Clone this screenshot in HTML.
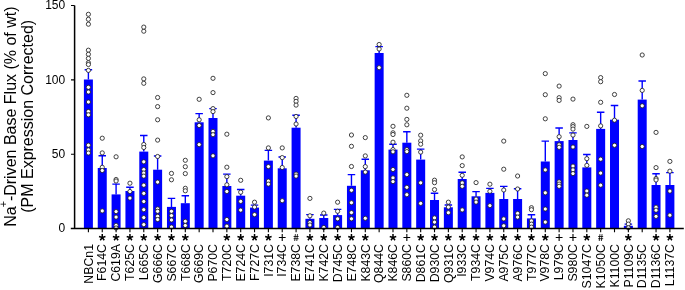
<!DOCTYPE html><html><head><meta charset="utf-8"><style>html,body{margin:0;padding:0;background:#fff;}svg{display:block;will-change:transform;}text{font-family:"Liberation Sans",sans-serif;}</style></head><body>
<svg width="685" height="290" viewBox="0 0 685 290">
<rect width="685" height="290" fill="#fff"/>
<g fill="#0000ff"><rect x="83.90" y="79.50" width="9.0" height="149.00"/><rect x="97.75" y="168.00" width="9.0" height="60.50"/><rect x="111.59" y="194.40" width="9.0" height="34.10"/><rect x="125.44" y="191.00" width="9.0" height="37.50"/><rect x="139.28" y="151.60" width="9.0" height="76.90"/><rect x="153.12" y="169.70" width="9.0" height="58.80"/><rect x="166.97" y="206.90" width="9.0" height="21.60"/><rect x="180.81" y="203.20" width="9.0" height="25.30"/><rect x="194.66" y="122.30" width="9.0" height="106.20"/><rect x="208.50" y="118.00" width="9.0" height="110.50"/><rect x="222.35" y="186.00" width="9.0" height="42.50"/><rect x="236.20" y="195.70" width="9.0" height="32.80"/><rect x="250.04" y="207.60" width="9.0" height="20.90"/><rect x="263.88" y="160.60" width="9.0" height="67.90"/><rect x="277.73" y="168.30" width="9.0" height="60.20"/><rect x="291.58" y="127.70" width="9.0" height="100.80"/><rect x="305.42" y="218.80" width="9.0" height="9.70"/><rect x="319.26" y="218.00" width="9.0" height="10.50"/><rect x="333.11" y="215.10" width="9.0" height="13.40"/><rect x="346.96" y="185.80" width="9.0" height="42.70"/><rect x="360.80" y="170.30" width="9.0" height="58.20"/><rect x="374.64" y="53.00" width="9.0" height="175.50"/><rect x="388.49" y="149.60" width="9.0" height="78.90"/><rect x="402.34" y="142.70" width="9.0" height="85.80"/><rect x="416.18" y="159.60" width="9.0" height="68.90"/><rect x="430.02" y="200.00" width="9.0" height="28.50"/><rect x="443.87" y="207.30" width="9.0" height="21.20"/><rect x="457.72" y="179.00" width="9.0" height="49.50"/><rect x="471.56" y="196.30" width="9.0" height="32.20"/><rect x="485.40" y="192.90" width="9.0" height="35.60"/><rect x="499.25" y="199.00" width="9.0" height="29.50"/><rect x="513.10" y="199.00" width="9.0" height="29.50"/><rect x="526.94" y="218.40" width="9.0" height="10.10"/><rect x="540.79" y="161.50" width="9.0" height="67.00"/><rect x="554.63" y="141.10" width="9.0" height="87.40"/><rect x="568.48" y="140.00" width="9.0" height="88.50"/><rect x="582.32" y="167.40" width="9.0" height="61.10"/><rect x="596.16" y="128.90" width="9.0" height="99.60"/><rect x="610.01" y="119.70" width="9.0" height="108.80"/><rect x="623.86" y="225.80" width="9.0" height="2.70"/><rect x="637.70" y="99.60" width="9.0" height="128.90"/><rect x="651.54" y="185.00" width="9.0" height="43.50"/><rect x="665.39" y="185.00" width="9.0" height="43.50"/></g>
<path d="M88.40 79.50V69.80M84.65 69.80H92.15M102.25 168.00V155.70M98.50 155.70H106.00M116.09 194.40V184.10M112.34 184.10H119.84M129.94 191.00V187.20M126.19 187.20H133.69M143.78 151.60V135.50M140.03 135.50H147.53M157.62 169.70V156.00M153.88 156.00H161.38M171.47 206.90V198.40M167.72 198.40H175.22M185.31 203.20V195.70M181.56 195.70H189.06M199.16 122.30V113.60M195.41 113.60H202.91M213.00 118.00V108.60M209.25 108.60H216.75M226.85 186.00V174.10M223.10 174.10H230.60M240.70 195.70V189.50M236.95 189.50H244.45M254.54 207.60V205.10M250.79 205.10H258.29M268.38 160.60V150.40M264.63 150.40H272.13M282.23 168.30V157.00M278.48 157.00H285.98M296.08 127.70V115.30M292.33 115.30H299.83M309.92 218.80V214.60M306.17 214.60H313.67M323.76 218.00V215.00M320.01 215.00H327.51M337.61 215.10V209.40M333.86 209.40H341.36M351.46 185.80V174.60M347.71 174.60H355.21M365.30 170.30V159.30M361.55 159.30H369.05M379.14 53.00V46.60M375.39 46.60H382.89M392.99 149.60V144.20M389.24 144.20H396.74M406.84 142.70V131.80M403.09 131.80H410.59M420.68 159.60V149.10M416.93 149.10H424.43M434.52 200.00V193.30M430.77 193.30H438.27M448.37 207.30V205.00M444.62 205.00H452.12M462.22 179.00V172.30M458.47 172.30H465.97M476.06 196.30V191.60M472.31 191.60H479.81M489.90 192.90V188.40M486.15 188.40H493.65M503.75 199.00V186.40M500.00 186.40H507.50M517.60 199.00V188.80M513.85 188.80H521.35M531.44 218.40V214.70M527.69 214.70H535.19M545.29 161.50V141.10M541.54 141.10H549.04M559.13 141.10V128.00M555.38 128.00H562.88M572.98 140.00V132.90M569.23 132.90H576.73M586.82 167.40V154.50M583.07 154.50H590.57M600.66 128.90V112.30M596.91 112.30H604.41M614.51 119.70V105.50M610.76 105.50H618.26M628.36 225.80V224.10M624.61 224.10H632.11M642.20 99.60V81.00M638.45 81.00H645.95M656.04 185.00V173.80M652.29 173.80H659.79M669.89 185.00V172.60M666.14 172.60H673.64" stroke="#0000ff" stroke-width="1.4" fill="none"/>
<g fill="#fff" stroke="#222" stroke-width="0.85"><circle cx="88.40" cy="14.30" r="2.1"/><circle cx="88.40" cy="19.30" r="2.1"/><circle cx="88.40" cy="24.20" r="2.1"/><circle cx="88.40" cy="50.20" r="2.1"/><circle cx="88.40" cy="54.30" r="2.1"/><circle cx="88.40" cy="58.40" r="2.1"/><circle cx="88.40" cy="62.70" r="2.1"/><circle cx="88.40" cy="64.50" r="2.1"/><circle cx="88.40" cy="70.40" r="2.1"/><circle cx="88.40" cy="87.30" r="2.1"/><circle cx="88.40" cy="92.00" r="2.1"/><circle cx="88.40" cy="102.00" r="2.1"/><circle cx="88.40" cy="111.50" r="2.1"/><circle cx="88.40" cy="114.80" r="2.1"/><circle cx="88.40" cy="145.20" r="2.1"/><circle cx="88.40" cy="149.90" r="2.1"/><circle cx="88.40" cy="153.00" r="2.1"/><circle cx="102.25" cy="138.20" r="2.1"/><circle cx="102.25" cy="152.90" r="2.1"/><circle cx="102.25" cy="167.30" r="2.1"/><circle cx="102.25" cy="170.50" r="2.1"/><circle cx="102.25" cy="210.90" r="2.1"/><circle cx="116.09" cy="156.80" r="2.1"/><circle cx="116.09" cy="179.50" r="2.1"/><circle cx="116.09" cy="181.00" r="2.1"/><circle cx="116.09" cy="211.60" r="2.1"/><circle cx="116.09" cy="217.10" r="2.1"/><circle cx="116.09" cy="225.30" r="2.1"/><circle cx="116.09" cy="228.00" r="2.1"/><circle cx="129.94" cy="183.20" r="2.1"/><circle cx="129.94" cy="191.50" r="2.1"/><circle cx="129.94" cy="198.10" r="2.1"/><circle cx="143.78" cy="31.20" r="2.1"/><circle cx="143.78" cy="27.10" r="2.1"/><circle cx="143.78" cy="78.90" r="2.1"/><circle cx="143.78" cy="83.30" r="2.1"/><circle cx="143.78" cy="144.50" r="2.1"/><circle cx="143.78" cy="147.50" r="2.1"/><circle cx="143.78" cy="161.80" r="2.1"/><circle cx="143.78" cy="169.60" r="2.1"/><circle cx="143.78" cy="173.00" r="2.1"/><circle cx="143.78" cy="176.10" r="2.1"/><circle cx="143.78" cy="185.20" r="2.1"/><circle cx="143.78" cy="193.40" r="2.1"/><circle cx="143.78" cy="201.50" r="2.1"/><circle cx="143.78" cy="209.70" r="2.1"/><circle cx="143.78" cy="217.60" r="2.1"/><circle cx="143.78" cy="224.60" r="2.1"/><circle cx="157.62" cy="97.50" r="2.1"/><circle cx="157.62" cy="106.60" r="2.1"/><circle cx="157.62" cy="119.80" r="2.1"/><circle cx="157.62" cy="140.10" r="2.1"/><circle cx="157.62" cy="156.50" r="2.1"/><circle cx="157.62" cy="182.10" r="2.1"/><circle cx="157.62" cy="208.90" r="2.1"/><circle cx="157.62" cy="211.30" r="2.1"/><circle cx="157.62" cy="216.30" r="2.1"/><circle cx="157.62" cy="219.50" r="2.1"/><circle cx="171.47" cy="173.40" r="2.1"/><circle cx="171.47" cy="179.80" r="2.1"/><circle cx="171.47" cy="211.30" r="2.1"/><circle cx="171.47" cy="215.60" r="2.1"/><circle cx="171.47" cy="220.00" r="2.1"/><circle cx="171.47" cy="227.00" r="2.1"/><circle cx="185.31" cy="160.30" r="2.1"/><circle cx="185.31" cy="166.70" r="2.1"/><circle cx="185.31" cy="173.60" r="2.1"/><circle cx="185.31" cy="188.30" r="2.1"/><circle cx="185.31" cy="190.80" r="2.1"/><circle cx="185.31" cy="221.30" r="2.1"/><circle cx="185.31" cy="225.50" r="2.1"/><circle cx="199.16" cy="99.30" r="2.1"/><circle cx="199.16" cy="119.80" r="2.1"/><circle cx="199.16" cy="125.50" r="2.1"/><circle cx="199.16" cy="144.60" r="2.1"/><circle cx="213.00" cy="78.30" r="2.1"/><circle cx="213.00" cy="92.60" r="2.1"/><circle cx="213.00" cy="108.60" r="2.1"/><circle cx="213.00" cy="111.60" r="2.1"/><circle cx="213.00" cy="131.40" r="2.1"/><circle cx="213.00" cy="134.70" r="2.1"/><circle cx="213.00" cy="155.80" r="2.1"/><circle cx="226.85" cy="134.20" r="2.1"/><circle cx="226.85" cy="167.20" r="2.1"/><circle cx="226.85" cy="176.60" r="2.1"/><circle cx="226.85" cy="184.80" r="2.1"/><circle cx="226.85" cy="191.50" r="2.1"/><circle cx="226.85" cy="219.50" r="2.1"/><circle cx="226.85" cy="226.20" r="2.1"/><circle cx="240.70" cy="180.30" r="2.1"/><circle cx="240.70" cy="192.20" r="2.1"/><circle cx="240.70" cy="201.40" r="2.1"/><circle cx="240.70" cy="210.10" r="2.1"/><circle cx="254.54" cy="202.20" r="2.1"/><circle cx="254.54" cy="207.10" r="2.1"/><circle cx="254.54" cy="214.60" r="2.1"/><circle cx="268.38" cy="117.90" r="2.1"/><circle cx="268.38" cy="147.90" r="2.1"/><circle cx="268.38" cy="166.60" r="2.1"/><circle cx="268.38" cy="181.10" r="2.1"/><circle cx="268.38" cy="184.10" r="2.1"/><circle cx="282.23" cy="147.90" r="2.1"/><circle cx="282.23" cy="157.60" r="2.1"/><circle cx="282.23" cy="167.50" r="2.1"/><circle cx="282.23" cy="200.70" r="2.1"/><circle cx="296.08" cy="98.40" r="2.1"/><circle cx="296.08" cy="101.40" r="2.1"/><circle cx="296.08" cy="105.10" r="2.1"/><circle cx="296.08" cy="116.50" r="2.1"/><circle cx="296.08" cy="124.00" r="2.1"/><circle cx="296.08" cy="174.10" r="2.1"/><circle cx="296.08" cy="176.10" r="2.1"/><circle cx="309.92" cy="198.40" r="2.1"/><circle cx="309.92" cy="215.80" r="2.1"/><circle cx="309.92" cy="222.50" r="2.1"/><circle cx="309.92" cy="225.00" r="2.1"/><circle cx="323.76" cy="213.10" r="2.1"/><circle cx="323.76" cy="227.50" r="2.1"/><circle cx="337.61" cy="202.20" r="2.1"/><circle cx="337.61" cy="211.30" r="2.1"/><circle cx="337.61" cy="218.80" r="2.1"/><circle cx="337.61" cy="227.50" r="2.1"/><circle cx="351.46" cy="135.00" r="2.1"/><circle cx="351.46" cy="146.30" r="2.1"/><circle cx="351.46" cy="166.50" r="2.1"/><circle cx="351.46" cy="190.30" r="2.1"/><circle cx="351.46" cy="202.70" r="2.1"/><circle cx="351.46" cy="212.60" r="2.1"/><circle cx="351.46" cy="218.80" r="2.1"/><circle cx="365.30" cy="137.60" r="2.1"/><circle cx="365.30" cy="155.90" r="2.1"/><circle cx="365.30" cy="166.60" r="2.1"/><circle cx="365.30" cy="172.10" r="2.1"/><circle cx="365.30" cy="218.30" r="2.1"/><circle cx="379.14" cy="44.50" r="2.1"/><circle cx="379.14" cy="49.00" r="2.1"/><circle cx="379.14" cy="67.70" r="2.1"/><circle cx="392.99" cy="126.30" r="2.1"/><circle cx="392.99" cy="132.80" r="2.1"/><circle cx="392.99" cy="134.50" r="2.1"/><circle cx="392.99" cy="142.20" r="2.1"/><circle cx="392.99" cy="149.60" r="2.1"/><circle cx="392.99" cy="151.80" r="2.1"/><circle cx="392.99" cy="169.50" r="2.1"/><circle cx="392.99" cy="177.90" r="2.1"/><circle cx="392.99" cy="181.60" r="2.1"/><circle cx="406.84" cy="95.30" r="2.1"/><circle cx="406.84" cy="108.20" r="2.1"/><circle cx="406.84" cy="119.40" r="2.1"/><circle cx="406.84" cy="124.80" r="2.1"/><circle cx="406.84" cy="149.60" r="2.1"/><circle cx="406.84" cy="151.60" r="2.1"/><circle cx="406.84" cy="174.60" r="2.1"/><circle cx="406.84" cy="187.30" r="2.1"/><circle cx="406.84" cy="194.70" r="2.1"/><circle cx="420.68" cy="135.20" r="2.1"/><circle cx="420.68" cy="140.90" r="2.1"/><circle cx="420.68" cy="144.20" r="2.1"/><circle cx="420.68" cy="152.10" r="2.1"/><circle cx="420.68" cy="182.80" r="2.1"/><circle cx="420.68" cy="203.40" r="2.1"/><circle cx="434.52" cy="180.20" r="2.1"/><circle cx="434.52" cy="182.70" r="2.1"/><circle cx="434.52" cy="189.60" r="2.1"/><circle cx="434.52" cy="217.90" r="2.1"/><circle cx="434.52" cy="222.10" r="2.1"/><circle cx="434.52" cy="227.10" r="2.1"/><circle cx="448.37" cy="202.20" r="2.1"/><circle cx="448.37" cy="207.10" r="2.1"/><circle cx="448.37" cy="212.70" r="2.1"/><circle cx="462.22" cy="156.90" r="2.1"/><circle cx="462.22" cy="165.60" r="2.1"/><circle cx="462.22" cy="175.30" r="2.1"/><circle cx="462.22" cy="182.90" r="2.1"/><circle cx="462.22" cy="186.30" r="2.1"/><circle cx="462.22" cy="209.90" r="2.1"/><circle cx="476.06" cy="182.60" r="2.1"/><circle cx="476.06" cy="199.10" r="2.1"/><circle cx="476.06" cy="202.10" r="2.1"/><circle cx="489.90" cy="184.20" r="2.1"/><circle cx="489.90" cy="191.30" r="2.1"/><circle cx="489.90" cy="205.60" r="2.1"/><circle cx="503.75" cy="141.10" r="2.1"/><circle cx="503.75" cy="169.20" r="2.1"/><circle cx="503.75" cy="190.00" r="2.1"/><circle cx="503.75" cy="218.90" r="2.1"/><circle cx="503.75" cy="225.80" r="2.1"/><circle cx="517.60" cy="176.00" r="2.1"/><circle cx="517.60" cy="189.00" r="2.1"/><circle cx="517.60" cy="213.40" r="2.1"/><circle cx="517.60" cy="217.10" r="2.1"/><circle cx="531.44" cy="207.70" r="2.1"/><circle cx="531.44" cy="209.70" r="2.1"/><circle cx="531.44" cy="220.90" r="2.1"/><circle cx="531.44" cy="224.10" r="2.1"/><circle cx="531.44" cy="227.10" r="2.1"/><circle cx="545.29" cy="73.60" r="2.1"/><circle cx="545.29" cy="94.70" r="2.1"/><circle cx="545.29" cy="118.80" r="2.1"/><circle cx="545.29" cy="169.90" r="2.1"/><circle cx="545.29" cy="192.80" r="2.1"/><circle cx="545.29" cy="209.00" r="2.1"/><circle cx="545.29" cy="222.10" r="2.1"/><circle cx="559.13" cy="86.10" r="2.1"/><circle cx="559.13" cy="97.70" r="2.1"/><circle cx="559.13" cy="100.40" r="2.1"/><circle cx="559.13" cy="136.70" r="2.1"/><circle cx="559.13" cy="144.90" r="2.1"/><circle cx="559.13" cy="147.30" r="2.1"/><circle cx="559.13" cy="181.90" r="2.1"/><circle cx="559.13" cy="184.10" r="2.1"/><circle cx="559.13" cy="186.30" r="2.1"/><circle cx="572.98" cy="99.10" r="2.1"/><circle cx="572.98" cy="124.70" r="2.1"/><circle cx="572.98" cy="126.60" r="2.1"/><circle cx="572.98" cy="129.10" r="2.1"/><circle cx="572.98" cy="135.10" r="2.1"/><circle cx="572.98" cy="147.00" r="2.1"/><circle cx="572.98" cy="166.10" r="2.1"/><circle cx="572.98" cy="169.90" r="2.1"/><circle cx="572.98" cy="173.60" r="2.1"/><circle cx="586.82" cy="126.40" r="2.1"/><circle cx="586.82" cy="158.70" r="2.1"/><circle cx="586.82" cy="165.40" r="2.1"/><circle cx="586.82" cy="191.00" r="2.1"/><circle cx="586.82" cy="195.20" r="2.1"/><circle cx="600.66" cy="77.60" r="2.1"/><circle cx="600.66" cy="81.70" r="2.1"/><circle cx="600.66" cy="102.30" r="2.1"/><circle cx="600.66" cy="125.90" r="2.1"/><circle cx="600.66" cy="159.20" r="2.1"/><circle cx="600.66" cy="173.10" r="2.1"/><circle cx="600.66" cy="185.20" r="2.1"/><circle cx="614.51" cy="94.50" r="2.1"/><circle cx="614.51" cy="120.20" r="2.1"/><circle cx="614.51" cy="145.30" r="2.1"/><circle cx="628.36" cy="220.80" r="2.1"/><circle cx="628.36" cy="224.10" r="2.1"/><circle cx="628.36" cy="227.80" r="2.1"/><circle cx="642.20" cy="55.00" r="2.1"/><circle cx="642.20" cy="90.40" r="2.1"/><circle cx="642.20" cy="105.80" r="2.1"/><circle cx="642.20" cy="146.50" r="2.1"/><circle cx="656.04" cy="132.40" r="2.1"/><circle cx="656.04" cy="167.60" r="2.1"/><circle cx="656.04" cy="178.50" r="2.1"/><circle cx="656.04" cy="180.00" r="2.1"/><circle cx="656.04" cy="207.20" r="2.1"/><circle cx="656.04" cy="210.20" r="2.1"/><circle cx="656.04" cy="216.40" r="2.1"/><circle cx="669.89" cy="161.40" r="2.1"/><circle cx="669.89" cy="171.20" r="2.1"/><circle cx="669.89" cy="191.10" r="2.1"/><circle cx="669.89" cy="215.20" r="2.1"/></g>
<path d="M74.6 5.5V228.5M70.8 228.5H683.8" stroke="#000" stroke-width="1.5" fill="none"/>
<path d="M71 5.5H74.6M71 79.9H74.6M71 154.2H74.6M88.40 228.5V232.3M102.25 228.5V232.3M116.09 228.5V232.3M129.94 228.5V232.3M143.78 228.5V232.3M157.62 228.5V232.3M171.47 228.5V232.3M185.31 228.5V232.3M199.16 228.5V232.3M213.00 228.5V232.3M226.85 228.5V232.3M240.70 228.5V232.3M254.54 228.5V232.3M268.38 228.5V232.3M282.23 228.5V232.3M296.08 228.5V232.3M309.92 228.5V232.3M323.76 228.5V232.3M337.61 228.5V232.3M351.46 228.5V232.3M365.30 228.5V232.3M379.14 228.5V232.3M392.99 228.5V232.3M406.84 228.5V232.3M420.68 228.5V232.3M434.52 228.5V232.3M448.37 228.5V232.3M462.22 228.5V232.3M476.06 228.5V232.3M489.90 228.5V232.3M503.75 228.5V232.3M517.60 228.5V232.3M531.44 228.5V232.3M545.29 228.5V232.3M559.13 228.5V232.3M572.98 228.5V232.3M586.82 228.5V232.3M600.66 228.5V232.3M614.51 228.5V232.3M628.36 228.5V232.3M642.20 228.5V232.3M656.04 228.5V232.3M669.89 228.5V232.3" stroke="#000" stroke-width="1.1" fill="none"/>
<text x="65.2" y="9.2" font-size="12" text-anchor="end">150</text>
<text x="65.2" y="83.8" font-size="12" text-anchor="end">100</text>
<text x="65.2" y="158.1" font-size="12" text-anchor="end">50</text>
<text x="65.2" y="232.4" font-size="12" text-anchor="end">0</text>
<text transform="translate(92.60 244) rotate(-90)" font-size="12.3" text-anchor="end">NBCn1</text>
<text transform="translate(106.45 244) rotate(-90)" font-size="12.3" text-anchor="end">F614C</text>
<text transform="translate(120.29 244) rotate(-90)" font-size="12.3" text-anchor="end">C619A</text>
<text transform="translate(134.13 244) rotate(-90)" font-size="12.3" text-anchor="end">T625C</text>
<text transform="translate(147.98 244) rotate(-90)" font-size="12.3" text-anchor="end">L665C</text>
<text transform="translate(161.82 244) rotate(-90)" font-size="12.3" text-anchor="end">G666C</text>
<text transform="translate(175.67 244) rotate(-90)" font-size="12.3" text-anchor="end">S667C</text>
<text transform="translate(189.51 244) rotate(-90)" font-size="12.3" text-anchor="end">T668C</text>
<text transform="translate(203.36 244) rotate(-90)" font-size="12.3" text-anchor="end">G669C</text>
<text transform="translate(217.20 244) rotate(-90)" font-size="12.3" text-anchor="end">P670C</text>
<text transform="translate(231.05 244) rotate(-90)" font-size="12.3" text-anchor="end">T720C</text>
<text transform="translate(244.90 244) rotate(-90)" font-size="12.3" text-anchor="end">E724C</text>
<text transform="translate(258.74 244) rotate(-90)" font-size="12.3" text-anchor="end">F727C</text>
<text transform="translate(272.58 244) rotate(-90)" font-size="12.3" text-anchor="end">I731C</text>
<text transform="translate(286.43 244) rotate(-90)" font-size="12.3" text-anchor="end">I734C</text>
<text transform="translate(300.28 244) rotate(-90)" font-size="12.3" text-anchor="end">E738C</text>
<text transform="translate(314.12 244) rotate(-90)" font-size="12.3" text-anchor="end">E741C</text>
<text transform="translate(327.96 244) rotate(-90)" font-size="12.3" text-anchor="end">K742C</text>
<text transform="translate(341.81 244) rotate(-90)" font-size="12.3" text-anchor="end">D745C</text>
<text transform="translate(355.66 244) rotate(-90)" font-size="12.3" text-anchor="end">E748C</text>
<text transform="translate(369.50 244) rotate(-90)" font-size="12.3" text-anchor="end">K843C</text>
<text transform="translate(383.34 244) rotate(-90)" font-size="12.3" text-anchor="end">Q844C</text>
<text transform="translate(397.19 244) rotate(-90)" font-size="12.3" text-anchor="end">K846C</text>
<text transform="translate(411.04 244) rotate(-90)" font-size="12.3" text-anchor="end">S860C</text>
<text transform="translate(424.88 244) rotate(-90)" font-size="12.3" text-anchor="end">D861C</text>
<text transform="translate(438.72 244) rotate(-90)" font-size="12.3" text-anchor="end">D930C</text>
<text transform="translate(452.57 244) rotate(-90)" font-size="12.3" text-anchor="end">Q931C</text>
<text transform="translate(466.42 244) rotate(-90)" font-size="12.3" text-anchor="end">I933C</text>
<text transform="translate(480.26 244) rotate(-90)" font-size="12.3" text-anchor="end">T934C</text>
<text transform="translate(494.10 244) rotate(-90)" font-size="12.3" text-anchor="end">V974C</text>
<text transform="translate(507.95 244) rotate(-90)" font-size="12.3" text-anchor="end">A975C</text>
<text transform="translate(521.80 244) rotate(-90)" font-size="12.3" text-anchor="end">A976C</text>
<text transform="translate(535.64 244) rotate(-90)" font-size="12.3" text-anchor="end">T977C</text>
<text transform="translate(549.49 244) rotate(-90)" font-size="12.3" text-anchor="end">V978C</text>
<text transform="translate(563.33 244) rotate(-90)" font-size="12.3" text-anchor="end">L979C</text>
<text transform="translate(577.18 244) rotate(-90)" font-size="12.3" text-anchor="end">S980C</text>
<text transform="translate(591.02 244) rotate(-90)" font-size="12.3" text-anchor="end">S1047C</text>
<text transform="translate(604.87 244) rotate(-90)" font-size="12.3" text-anchor="end">K1050C</text>
<text transform="translate(618.71 244) rotate(-90)" font-size="12.3" text-anchor="end">K1100C</text>
<text transform="translate(632.56 244) rotate(-90)" font-size="12.3" text-anchor="end">P1109C</text>
<text transform="translate(646.40 244) rotate(-90)" font-size="12.3" text-anchor="end">D1135C</text>
<text transform="translate(660.25 244) rotate(-90)" font-size="12.3" text-anchor="end">D1136C</text>
<text transform="translate(674.09 244) rotate(-90)" font-size="12.3" text-anchor="end">L1137C</text>
<path d="M102.25 237.50L102.25 234.10M102.25 237.50L105.48 236.45M102.25 237.50L104.24 240.25M102.25 237.50L100.25 240.25M102.25 237.50L99.01 236.45M116.09 237.50L116.09 234.10M116.09 237.50L119.32 236.45M116.09 237.50L118.09 240.25M116.09 237.50L114.09 240.25M116.09 237.50L112.86 236.45M129.94 237.50L129.94 234.10M129.94 237.50L133.17 236.45M129.94 237.50L131.93 240.25M129.94 237.50L127.94 240.25M129.94 237.50L126.70 236.45M143.78 237.50L143.78 234.10M143.78 237.50L147.01 236.45M143.78 237.50L145.78 240.25M143.78 237.50L141.78 240.25M143.78 237.50L140.55 236.45M157.62 237.50L157.62 234.10M157.62 237.50L160.86 236.45M157.62 237.50L159.62 240.25M157.62 237.50L155.63 240.25M157.62 237.50L154.39 236.45M171.47 237.50L171.47 234.10M171.47 237.50L174.70 236.45M171.47 237.50L173.47 240.25M171.47 237.50L169.47 240.25M171.47 237.50L168.24 236.45M185.31 237.50L185.31 234.10M185.31 237.50L188.55 236.45M185.31 237.50L187.31 240.25M185.31 237.50L183.32 240.25M185.31 237.50L182.08 236.45M226.85 237.50L226.85 234.10M226.85 237.50L230.08 236.45M226.85 237.50L228.85 240.25M226.85 237.50L224.85 240.25M226.85 237.50L223.62 236.45M240.70 237.50L240.70 234.10M240.70 237.50L243.93 236.45M240.70 237.50L242.69 240.25M240.70 237.50L238.70 240.25M240.70 237.50L237.46 236.45M254.54 237.50L254.54 234.10M254.54 237.50L257.77 236.45M254.54 237.50L256.54 240.25M254.54 237.50L252.54 240.25M254.54 237.50L251.31 236.45M268.38 237.50L268.38 234.10M268.38 237.50L271.62 236.45M268.38 237.50L270.38 240.25M268.38 237.50L266.39 240.25M268.38 237.50L265.15 236.45M309.92 237.50L309.92 234.10M309.92 237.50L313.15 236.45M309.92 237.50L311.92 240.25M309.92 237.50L307.92 240.25M309.92 237.50L306.69 236.45M323.76 237.50L323.76 234.10M323.76 237.50L327.00 236.45M323.76 237.50L325.76 240.25M323.76 237.50L321.77 240.25M323.76 237.50L320.53 236.45M337.61 237.50L337.61 234.10M337.61 237.50L340.84 236.45M337.61 237.50L339.61 240.25M337.61 237.50L335.61 240.25M337.61 237.50L334.38 236.45M351.46 237.50L351.46 234.10M351.46 237.50L354.69 236.45M351.46 237.50L353.45 240.25M351.46 237.50L349.46 240.25M351.46 237.50L348.22 236.45M365.30 237.50L365.30 234.10M365.30 237.50L368.53 236.45M365.30 237.50L367.30 240.25M365.30 237.50L363.30 240.25M365.30 237.50L362.07 236.45M392.99 237.50L392.99 234.10M392.99 237.50L396.22 236.45M392.99 237.50L394.99 240.25M392.99 237.50L390.99 240.25M392.99 237.50L389.76 236.45M420.68 237.50L420.68 234.10M420.68 237.50L423.91 236.45M420.68 237.50L422.68 240.25M420.68 237.50L418.68 240.25M420.68 237.50L417.45 236.45M434.52 237.50L434.52 234.10M434.52 237.50L437.76 236.45M434.52 237.50L436.52 240.25M434.52 237.50L432.53 240.25M434.52 237.50L431.29 236.45M448.37 237.50L448.37 234.10M448.37 237.50L451.60 236.45M448.37 237.50L450.37 240.25M448.37 237.50L446.37 240.25M448.37 237.50L445.14 236.45M462.22 237.50L462.22 234.10M462.22 237.50L465.45 236.45M462.22 237.50L464.21 240.25M462.22 237.50L460.22 240.25M462.22 237.50L458.98 236.45M476.06 237.50L476.06 234.10M476.06 237.50L479.29 236.45M476.06 237.50L478.06 240.25M476.06 237.50L474.06 240.25M476.06 237.50L472.83 236.45M489.90 237.50L489.90 234.10M489.90 237.50L493.14 236.45M489.90 237.50L491.90 240.25M489.90 237.50L487.91 240.25M489.90 237.50L486.67 236.45M503.75 237.50L503.75 234.10M503.75 237.50L506.98 236.45M503.75 237.50L505.75 240.25M503.75 237.50L501.75 240.25M503.75 237.50L500.52 236.45M517.60 237.50L517.60 234.10M517.60 237.50L520.83 236.45M517.60 237.50L519.59 240.25M517.60 237.50L515.60 240.25M517.60 237.50L514.36 236.45M531.44 237.50L531.44 234.10M531.44 237.50L534.67 236.45M531.44 237.50L533.44 240.25M531.44 237.50L529.44 240.25M531.44 237.50L528.21 236.45M545.29 237.50L545.29 234.10M545.29 237.50L548.52 236.45M545.29 237.50L547.28 240.25M545.29 237.50L543.29 240.25M545.29 237.50L542.05 236.45M586.82 237.50L586.82 234.10M586.82 237.50L590.05 236.45M586.82 237.50L588.82 240.25M586.82 237.50L584.82 240.25M586.82 237.50L583.59 236.45M628.36 237.50L628.36 234.10M628.36 237.50L631.59 236.45M628.36 237.50L630.35 240.25M628.36 237.50L626.36 240.25M628.36 237.50L625.12 236.45M656.04 237.50L656.04 234.10M656.04 237.50L659.28 236.45M656.04 237.50L658.04 240.25M656.04 237.50L654.05 240.25M656.04 237.50L652.81 236.45M669.89 237.50L669.89 234.10M669.89 237.50L673.12 236.45M669.89 237.50L671.89 240.25M669.89 237.50L667.89 240.25M669.89 237.50L666.66 236.45" stroke="#000" stroke-width="1.5" fill="none"/>
<path d="M278.83 237.50H285.63M282.23 234.10V241.00M403.44 237.50H410.24M406.84 234.10V241.00M555.73 237.50H562.53M559.13 234.10V241.00M569.58 237.50H576.38M572.98 234.10V241.00" stroke="#000" stroke-width="1.1" fill="none"/>
<path d="M295.38 234.10L294.68 241.00M297.48 234.10L296.78 241.00M293.58 236.50H298.58M293.58 238.70H298.58M599.96 234.10L599.26 241.00M602.06 234.10L601.37 241.00M598.16 236.50H603.16M598.16 238.70H603.16" stroke="#000" stroke-width="0.8" fill="none"/>
<text transform="translate(15.9 226.7) rotate(-90)" font-size="16">Na<tspan font-size="11" dx="-1" dy="-9">+</tspan><tspan dx="-0.3" dy="9">-Driven Base Flux (% of wt)</tspan></text>
<text transform="translate(33.3 212.8) rotate(-90)" font-size="16">(PM Expression Corrected)</text>
</svg></body></html>
